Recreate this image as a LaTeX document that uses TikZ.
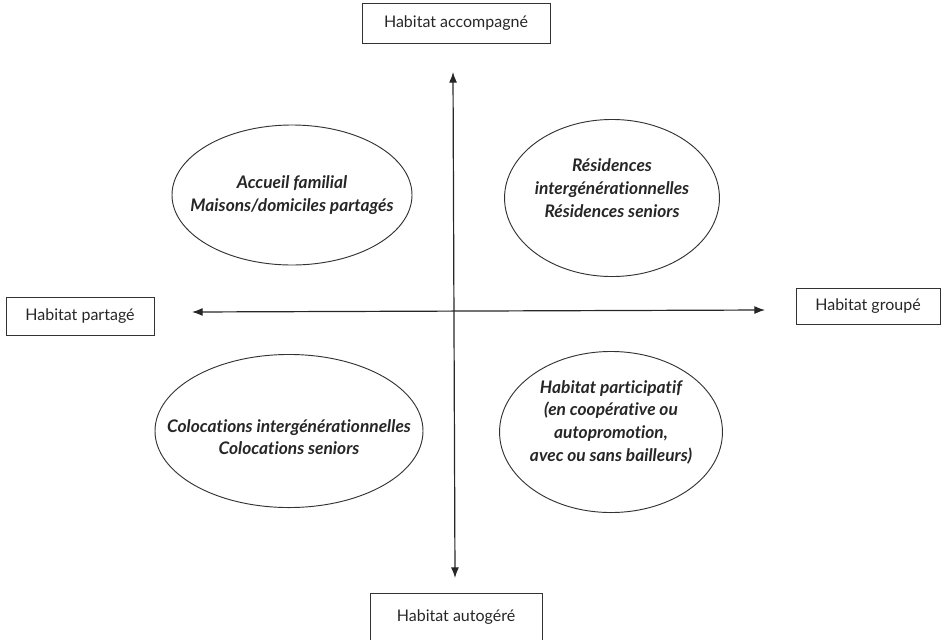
\documentclass[tikz,border=0pt]{standalone}
\usepackage{fontspec}
\setmainfont{Lato}[Ligatures=NoCommon]
\usetikzlibrary{arrows.meta,positioning,shapes.geometric}

\begin{document}
\begin{tikzpicture}[
        x=0.75pt, y=-0.75pt,
        pole/.style={
            draw=black!80,
            line width=0.6pt,
            inner sep=0pt,
            align=center,
            text=black!85,
            font=\fontsize{12}{15}\selectfont
        },
        family/.style={
            inner sep=0pt,
            align=center,
            text=black!85,
            font=\fontsize{13}{17}\selectfont\bfseries\itshape
        },
        ring/.style={draw=black!80, line width=0.7pt},
        axis/.style={{Latex[length=8pt,width=6pt]}-{Latex[length=8pt,width=6pt]}, line width=0.9pt, black!85}
    ]
        \useasboundingbox (0,0) rectangle (944,639);

        % axes
        \coordinate (north) at (453,72);
        \coordinate (south) at (455,578);
        \coordinate (west) at (192,312);
        \coordinate (east) at (765,310);
        \draw[axis] (north) -- (south);
        \draw[axis] (west) -- (east);

        % poles
        \node[pole, minimum width=141pt, minimum height=30pt] (accomp) at (456,23) {Habitat accompagné};
        \node[pole, minimum width=129pt, minimum height=36pt] (autog) at (456,617) {Habitat autogéré};
        \node[pole, minimum width=111pt, minimum height=28.5pt] (partage) at (80,316) {Habitat partagé};
        \node[pole, minimum width=108pt, minimum height=27pt] (groupe) at (868,306) {Habitat groupé};

        % quadrants
        \node[family] (accueil) at (292,195)
            {Accueil familial\\Maisons/domiciles partagés};
        \draw[ring] (accueil.center) ellipse [x radius=90pt, y radius=52.5pt];

        \node[family] (residences) at (612,188)
            {Résidences\\intergénérationnelles\\Résidences seniors};
        \draw[ring] ([yshift=-7.5pt]residences.center) ellipse [x radius=80.6pt, y radius=58.9pt];

        \node[family] (colocations) at (289,437)
            {Colocations intergénérationnelles\\Colocations seniors};
        \draw[ring] ([yshift=4.5pt]colocations.center) ellipse [x radius=100.5pt, y radius=57.4pt];

        \node[family] (participatif) at (611,422)
            {Habitat participatif\\(en coopérative ou\\autopromotion,\\avec ou sans bailleurs)};
        \draw[ring] ([yshift=-7.5pt]participatif.center) ellipse [x radius=83.6pt, y radius=60.4pt];
    \end{tikzpicture}
\end{document}
